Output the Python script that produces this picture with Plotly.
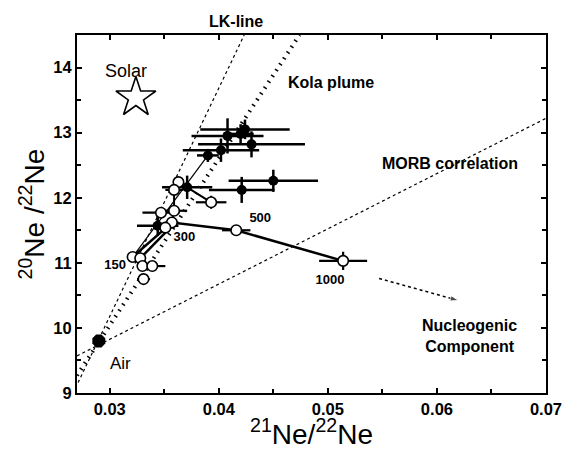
import plotly.graph_objects as go

# ---------------- data ----------------
# Kola plume samples (filled)
kola_x = [0.0424, 0.0420, 0.0408, 0.0430, 0.0402, 0.0390, 0.0450, 0.0421, 0.0371, 0.0344]
kola_y = [13.05, 12.98, 12.95, 12.82, 12.73, 12.65, 12.26, 12.12, 12.16, 11.57]
kola_xerr = [0.0041, 0.0012, 0.0033, 0.0049, 0.0035, 0.0010, 0.0041, 0.0030, 0.0023, 0.0019]
kola_yerr = [0.15, 0.15, 0.27, 0.20, 0.18, 0.10, 0.17, 0.20, 0.18, 0.15]

# step-heating / open symbols
open_x = [0.0321, 0.0328, 0.0330, 0.0339, 0.0331, 0.0363, 0.0359, 0.0347, 0.0359, 0.0357, 0.0351, 0.0393, 0.0416, 0.0514]
open_y = [11.09, 11.07, 10.95, 10.95, 10.75, 12.24, 12.12, 11.77, 11.80, 11.62, 11.54, 11.93, 11.50, 11.03]
open_xerr = [0.0003, 0.0003, 0.0003, 0.0012, 0.0006, 0.0005, 0.0008, 0.0017, 0.0012, 0.0006, 0.0006, 0.0014, 0.0013, 0.0022]
open_yerr = [0.04, 0.04, 0.04, 0.04, 0.04, 0.05, 0.05, 0.06, 0.06, 0.05, 0.05, 0.10, 0.07, 0.14]

# temperature path (indices into open arrays) and labels
path_main = [0, 10, 9, 12, 13]
path_second_x = [0.0328, 0.0353]
path_second_y = [11.07, 11.50]
path_up_x = [0.0357, 0.0359, 0.0359]
path_up_y = [11.62, 11.80, 12.12]
temp_labels = ["150", "300", "500", "1000"]
temp_label_x = [0.0305, 0.03685, 0.0438, 0.0502]
temp_label_y = [10.95, 11.39, 11.67, 10.73]

# thin trend line & link
trend_x = [0.0321, 0.0390]
trend_y = [11.09, 12.65]
link_x = [0.0371, 0.0393]
link_y = [12.16, 11.93]

# reference components
air_x, air_y = [0.0290], [9.80]
solar_x, solar_y = [0.0324], [13.54]

# reference lines
lk_x = [0.0271, 0.04233]
lk_y = [9.16, 14.5]
morb_x = [0.027, 0.070]
morb_y = [9.57, 13.22]
kola_line_x = [0.027, 0.0474]
kola_line_y = [9.27, 14.5]
nucl_x = [0.0547, 0.0620]
nucl_y = [10.76, 10.42]

x_ticks = [0.03, 0.04, 0.05, 0.06, 0.07]
y_ticks = [9, 10, 11, 12, 13, 14]

FONT = "Liberation Sans, Arial, sans-serif"

fig = go.Figure()

# reference lines
fig.add_trace(go.Scatter(x=lk_x, y=lk_y, mode="lines",
                         line=dict(color="black", width=1.2, dash="dot")))
fig.add_trace(go.Scatter(x=morb_x, y=morb_y, mode="lines",
                         line=dict(color="black", width=1.2, dash="dot")))
fig.add_trace(go.Scatter(x=kola_line_x, y=kola_line_y, mode="lines",
                         line=dict(color="black", width=4, dash="1.5px,5.5px")))
fig.add_trace(go.Scatter(x=nucl_x, y=nucl_y, mode="lines+markers",
                         line=dict(color="black", width=1.5, dash="dot"),
                         marker=dict(symbol="arrow", size=[0, 9], color="black",
                                     angleref="previous")))

# connecting lines
fig.add_trace(go.Scatter(x=trend_x, y=trend_y, mode="lines",
                         line=dict(color="black", width=1.2)))
fig.add_trace(go.Scatter(x=link_x, y=link_y, mode="lines",
                         line=dict(color="black", width=2)))
fig.add_trace(go.Scatter(x=[open_x[i] for i in path_main], y=[open_y[i] for i in path_main],
                         mode="lines", line=dict(color="black", width=2.5)))
fig.add_trace(go.Scatter(x=path_second_x, y=path_second_y, mode="lines",
                         line=dict(color="black", width=2.5)))
fig.add_trace(go.Scatter(x=path_up_x, y=path_up_y, mode="lines",
                         line=dict(color="black", width=2)))

# Kola filled points
fig.add_trace(go.Scatter(
    x=kola_x, y=kola_y, mode="markers",
    marker=dict(symbol="circle", size=10, color="black"),
    error_x=dict(type="data", array=kola_xerr, thickness=2.5, width=0, color="black"),
    error_y=dict(type="data", array=kola_yerr, thickness=2.5, width=0, color="black"),
))

# open points
fig.add_trace(go.Scatter(
    x=open_x, y=open_y, mode="markers",
    marker=dict(symbol="circle", size=10.5, color="white", line=dict(color="black", width=1.6)),
    error_x=dict(type="data", array=open_xerr, thickness=2.2, width=0, color="black"),
    error_y=dict(type="data", array=open_yerr, thickness=2.2, width=0, color="black"),
))

# Air & Solar
fig.add_trace(go.Scatter(x=air_x, y=air_y, mode="markers",
                         marker=dict(symbol="octagon", size=14, color="black")))
fig.add_trace(go.Scatter(x=solar_x, y=solar_y, mode="markers",
                         marker=dict(symbol="star-open", size=30, color="black",
                                     line=dict(width=1.6, color="black"))))

# temperature labels
fig.add_trace(go.Scatter(x=temp_label_x, y=temp_label_y, mode="text", text=temp_labels,
                         textfont=dict(family=FONT, size=13, color="black", weight="bold")))

ann = []
def add_text(x, y, text, size, bold=True, xref="x", yref="y"):
    ann.append(dict(x=x, y=y, xref=xref, yref=yref, text=text, showarrow=False,
                    xanchor="center", yanchor="middle",
                    font=dict(family=FONT, size=size, color="black",
                              weight="bold" if bold else "normal")))

add_text(0.04157, 1.0385, "LK-line", 16, xref="x", yref="paper")
add_text(0.0315, 13.95, "Solar", 18, bold=False)
add_text(0.0503, 13.77, "Kola plume", 16)
add_text(0.0612, 12.52, "MORB correlation", 16)
add_text(0.0630, 9.88, "Nucleogenic<br>Component", 16)
add_text(0.0310, 9.45, "Air", 17, bold=False)

# axis titles
ann.append(dict(x=0.5, y=-0.109, xref="paper", yref="paper",
                text="<sup>21</sup>Ne/<sup>22</sup>Ne", showarrow=False,
                xanchor="center", yanchor="middle",
                font=dict(family=FONT, size=28, color="black")))
ann.append(dict(x=-0.095, y=0.5, xref="paper", yref="paper",
                text="<sup>20</sup>Ne /<sup>22</sup>Ne", showarrow=False, textangle=-90,
                xanchor="center", yanchor="middle",
                font=dict(family=FONT, size=28, color="black")))

axis_common = dict(showgrid=False, zeroline=False, showline=True, linecolor="black",
                   linewidth=2, mirror="allticks", ticks="inside", ticklen=5,
                   tickwidth=1.5, tickcolor="black",
                   tickfont=dict(family=FONT, size=16.5, color="black", weight="bold"))

fig.update_layout(
    width=574, height=458,
    margin=dict(l=77, r=21, t=35, b=65),
    paper_bgcolor="white", plot_bgcolor="white",
    showlegend=False,
    annotations=ann,
    xaxis=dict(range=[0.027, 0.07], tickvals=x_ticks,
               ticktext=[f"{v:.2f}" for v in x_ticks],
               minor=dict(dtick=0.005, ticks="inside", ticklen=4, tickwidth=1.5,
                          tickcolor="black", tick0=0.025),
               **axis_common),
    yaxis=dict(range=[9, 14.5], tickvals=y_ticks,
               ticktext=[str(v) for v in y_ticks],
               minor=dict(dtick=0.5, ticks="inside", ticklen=4, tickwidth=1.5,
                          tickcolor="black", tick0=9),
               **axis_common),
)

fig.write_html("out.html")
